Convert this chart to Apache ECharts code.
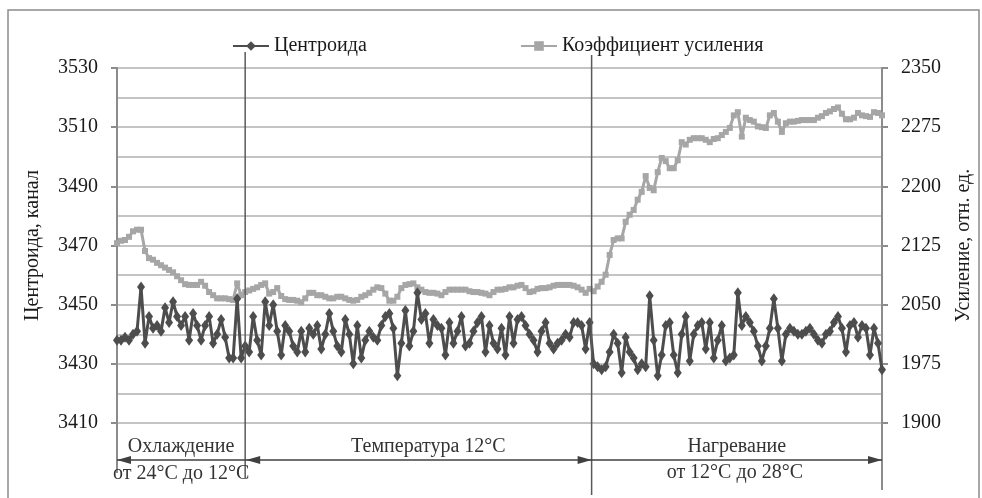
<!DOCTYPE html>
<html><head><meta charset="utf-8">
<script src="https://cdn.jsdelivr.net/npm/echarts@6/dist/echarts.min.js"></script>
<style>html,body{margin:0;padding:0;background:#fff}#c{width:982px;height:498px}</style>
</head><body><div id="c"></div>
<script>
const seriesNames = ['Центроида', 'Коэффициент усиления'];
const axisNames = ['Центроида, канал', 'Усиление, отн. ед.'];
const centroid = [
 3438,3438,3439,3438,3440,3441,3456,3437,3446,3442,
 3443,3441,3449,3444,3451,3446,3443,3446,3438,3447,
 3443,3438,3443,3446,3437,3440,3445,3439,3432,3432,
 3452,3432,3436,3434,3446,3438,3433,3451,3443,3450,
 3441,3433,3443,3441,3436,3434,3441,3434,3442,3440,
 3443,3435,3440,3447,3441,3436,3434,3445,3440,3430,
 3443,3432,3438,3441,3439,3438,3443,3446,3447,3442,
 3426,3437,3448,3436,3441,3454,3445,3447,3437,3445,
 3443,3442,3433,3444,3437,3441,3446,3436,3437,3441,
 3444,3446,3434,3443,3437,3435,3442,3433,3446,3437,
 3445,3446,3443,3440,3438,3434,3441,3444,3437,3435,
 3437,3438,3440,3439,3444,3444,3443,3435,3444,3430,
 3429,3428,3429,3434,3440,3437,3427,3439,3434,3432,
 3428,3430,3429,3453,3438,3426,3433,3443,3444,3433,
 3427,3440,3446,3431,3440,3443,3444,3435,3444,3432,
 3438,3443,3431,3432,3433,3454,3443,3446,3444,3441,
 3436,3431,3436,3442,3452,3442,3431,3440,3442,3441,
 3440,3440,3441,3442,3440,3438,3437,3440,3441,3444,
 3446,3442,3434,3443,3444,3439,3443,3442,3433,3442,
 3437,3428
];
const gain = [
 2128,2131,2132,2136,2143,2145,2145,2118,2109,2107,
 2103,2100,2097,2094,2091,2086,2081,2076,2075,2075,
 2075,2079,2074,2066,2062,2058,2058,2058,2057,2056,
 2077,2062,2066,2068,2070,2072,2075,2077,2064,2066,
 2071,2061,2057,2056,2056,2055,2053,2058,2065,2065,
 2062,2062,2060,2058,2058,2060,2060,2058,2056,2055,
 2056,2060,2062,2065,2069,2072,2071,2064,2055,2055,
 2060,2071,2075,2076,2077,2072,2069,2066,2065,2065,
 2064,2062,2066,2069,2069,2069,2069,2069,2067,2066,
 2066,2065,2064,2062,2066,2069,2069,2070,2072,2072,
 2074,2075,2071,2066,2067,2070,2071,2071,2072,2074,
 2075,2075,2075,2075,2074,2072,2069,2065,2070,2067,
 2073,2079,2088,2113,2132,2134,2134,2155,2164,2170,
 2183,2193,2213,2198,2195,2218,2236,2232,2223,2223,
 2233,2256,2253,2259,2261,2261,2261,2259,2256,2260,
 2261,2265,2269,2274,2290,2294,2263,2287,2284,2282,
 2276,2275,2274,2290,2293,2282,2269,2280,2282,2282,
 2283,2284,2284,2284,2284,2287,2289,2293,2295,2298,
 2300,2292,2285,2285,2287,2293,2290,2289,2288,2294,
 2293,2290
];
const leftRange = [3410, 3530, 20];
const rightRange = [1900, 2350, 75];
const phaseBounds = [32, 118.5];
const phaseTitles = ['Охлаждение', 'Температура 12°C', 'Нагревание'];
const phaseSubs = ['от 24°C до 12°C', '', 'от 12°C до 28°C'];

const FONT = 'Liberation Serif';
const chart = echarts.init(document.getElementById('c'), null, {renderer: 'canvas'});
const cData = centroid.map((v, i) => [i, v]);
const gData = gain.map((v, i) => [i, v]);
const plain = v => String(v);

chart.setOption({
  animation: false,
  backgroundColor: '#fff',
  textStyle: {fontFamily: FONT},
  grid: {left: 117, right: 99, top: 68, bottom: 75},
  legend: [
    {data: [seriesNames[0]], left: 227, top: 31, itemWidth: 36, itemHeight: 12,
     textStyle: {fontFamily: FONT, fontSize: 20, color: '#1a1a1a'}},
    {data: [seriesNames[1]], left: 515, top: 31, itemWidth: 36, itemHeight: 12,
     textStyle: {fontFamily: FONT, fontSize: 20, color: '#1a1a1a'}}
  ],
  xAxis: {type: 'value', min: 0, max: centroid.length - 1, show: false},
  yAxis: [
    {type: 'value', min: leftRange[0], max: leftRange[1], interval: leftRange[2],
     name: axisNames[0], nameLocation: 'middle', nameRotate: 90, nameGap: 74,
     nameTextStyle: {fontFamily: FONT, fontSize: 20, color: '#1a1a1a'},
     axisLine: {show: true, lineStyle: {color: '#8c8c8c', width: 2}},
     axisTick: {show: true, length: 6, lineStyle: {color: '#8c8c8c', width: 2}},
     axisLabel: {margin: 19, fontFamily: FONT, fontSize: 20, color: '#1a1a1a', formatter: plain},
     splitLine: {show: true, lineStyle: {color: '#c4c4c4', width: 2}},
     minorTick: {show: false, splitNumber: 2},
     minorSplitLine: {show: true, lineStyle: {color: '#c4c4c4', width: 2}}},
    {type: 'value', min: rightRange[0], max: rightRange[1], interval: rightRange[2],
     position: 'right',
     name: axisNames[1], nameLocation: 'middle', nameRotate: 90, nameGap: 72,
     nameTextStyle: {fontFamily: FONT, fontSize: 20, color: '#1a1a1a'},
     axisLine: {show: true, lineStyle: {color: '#8c8c8c', width: 2}},
     axisTick: {show: true, length: 6, lineStyle: {color: '#8c8c8c', width: 2}},
     axisLabel: {margin: 19, fontFamily: FONT, fontSize: 20, color: '#1a1a1a', formatter: plain},
     splitLine: {show: false}}
  ],
  series: [
    {name: seriesNames[1], type: 'line', yAxisIndex: 1, data: gData,
     symbol: 'rect', symbolSize: 6, showSymbol: true,
     lineStyle: {color: '#a6a6a6', width: 3},
     itemStyle: {color: '#a6a6a6'}, z: 2},
    {name: seriesNames[0], type: 'line', yAxisIndex: 0, data: cData,
     symbol: 'diamond', symbolSize: [8, 11], showSymbol: true,
     lineStyle: {color: '#4d4d4d', width: 3},
     itemStyle: {color: '#4d4d4d'}, z: 3}
  ]
});

function px(x, y) { return chart.convertToPixel({xAxisIndex: 0, yAxisIndex: 0}, [x, y]); }
const xL = px(0, leftRange[0])[0];
const xR = px(centroid.length - 1, leftRange[0])[0];
const yTop = px(0, leftRange[1])[1];
const yBot = px(0, leftRange[0])[1];
const xs = phaseBounds.map(b => px(b, leftRange[0])[0]);
const yA = yBot + 37;
const AC = '#404040';
function head(x, y, dir) {
  return {type: 'polygon', shape: {points: [[x, y], [x - dir * 14, y - 4], [x - dir * 14, y + 4]]},
          style: {fill: AC}, z: 10};
}
function line(x1, y1, x2, y2, stroke, w) {
  return {type: 'line', shape: {x1, y1, x2, y2}, style: {stroke, lineWidth: w}, z: 9};
}
function txt(x, y, s) {
  return {type: 'text', x, y, style: {text: s, fontFamily: FONT, fontSize: 20, fill: '#333',
          align: 'center', verticalAlign: 'middle'}, z: 10};
}
const mids = [(xL + xs[0]) / 2, (xs[0] + xs[1]) / 2 + 10, (xs[1] + xR) / 2];
const g = [
  {type: 'polyline', shape: {points: [[8, 499], [8, 10], [979, 10], [979, 499]]},
   style: {stroke: '#8c8c8c', lineWidth: 1.5, fill: null}},
  line(xL, yBot, xL, yBot + 50, '#8c8c8c', 2),
  line(xR, yBot, xR, yBot + 67, '#8c8c8c', 2),
  line(xs[0], yTop - 16, xs[0], yBot + 55, '#5a5a5a', 1.5),
  line(xs[1], yTop - 13, xs[1], yBot + 72, '#5a5a5a', 1.5),
  line(xL, yA, xR, yA, AC, 1.5),
  head(xL, yA, -1), head(xs[0] + 1, yA, -1), head(xs[1], yA, 1), head(xR, yA, 1),
  txt(mids[0], yA - 13, phaseTitles[0]), txt(mids[0], yA + 14, phaseSubs[0]),
  txt(mids[1], yA - 13, phaseTitles[1]),
  txt(mids[2], yA - 13, phaseTitles[2]), txt(mids[2] - 2, yA + 13, phaseSubs[2])
];
chart.setOption({graphic: {elements: g}});
</script></body></html>
